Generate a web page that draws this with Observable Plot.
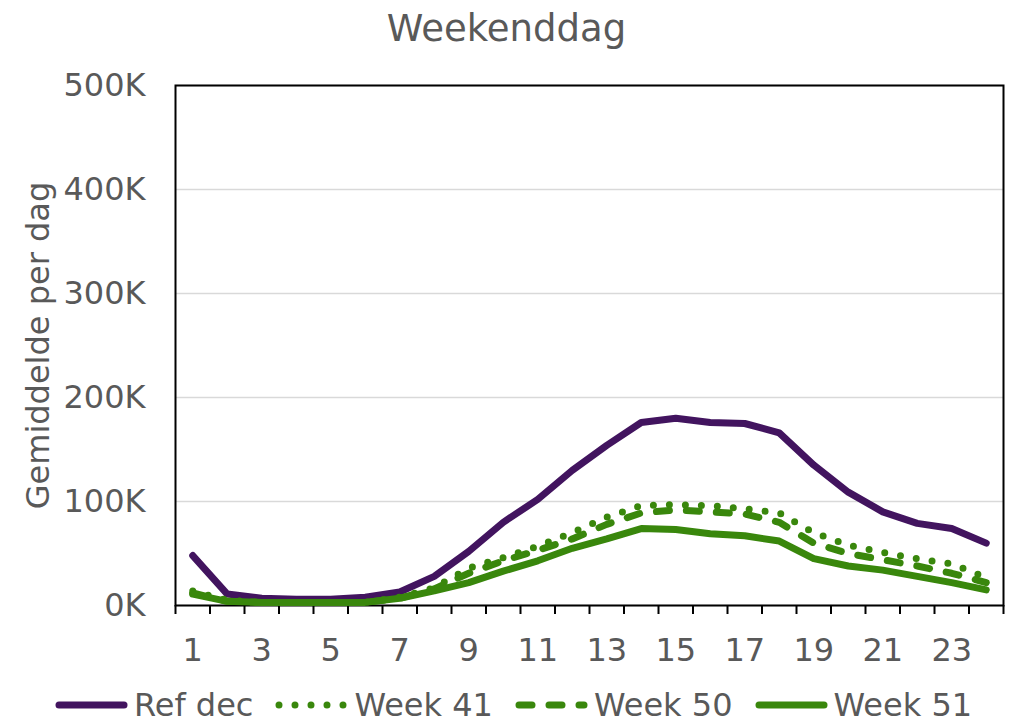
<!DOCTYPE html>
<html>
<head>
<meta charset="utf-8">
<script src="https://cdn.jsdelivr.net/npm/d3@7"></script>
<script src="https://cdn.jsdelivr.net/npm/@observablehq/plot@0.6"></script>
<style>
  html, body { margin: 0; padding: 0; background: #fff; }
  body { width: 1013px; height: 725px; overflow: hidden; font-family: "DejaVu Sans", sans-serif; color: #595959; }
  #title { height: 60px; line-height: 58px; text-align: center; font-size: 37px; }
  #legend { height: 40px; display: flex; justify-content: center; align-items: center; font-size: 32px; padding-left: 14px; }
  .item { display: flex; align-items: center; margin: 0 11px; line-height: 1; }
  .item svg { margin-right: 6px; }
</style>
</head>
<body>
<div id="title">Weekenddag</div>
<div id="chart"></div>
<div id="legend"></div>
<script>
// ---- data (thousands per day) ----
const hours = [1,2,3,4,5,6,7,8,9,10,11,12,13,14,15,16,17,18,19,20,21,22,23,24];
const refDec = [48, 11, 7, 6, 6, 8, 13, 28, 52, 80, 102, 130, 154, 176, 180, 176, 175, 166, 135, 109, 90, 79, 74, 60];
const week41 = [14, 5, 3, 3, 3, 3, 8, 17, 36, 46, 57, 70, 85, 96, 97, 96, 93, 89, 70, 58, 51, 45, 40, 27];
const week50 = [12, 4, 3, 3, 3, 3, 7, 16, 31, 43, 53, 64, 78, 89, 92, 90, 88, 80, 60, 50, 44, 38, 31, 22];
const week51 = [11, 4, 3, 3, 3, 3, 7, 14, 22, 33, 43, 55, 64, 74, 73, 69, 67, 62, 45, 38, 34, 28, 22, 15];
const xTickLabels = [1,3,5,7,9,11,13,15,17,19,21,23];
const yTicks = [0, 100000, 200000, 300000, 400000, 500000];
const seriesNames = ["Ref dec", "Week 41", "Week 50", "Week 51"];

const purple = "#42145f";
const green = "#39870c";
const styles = [
  {stroke: purple, dash: null},
  {stroke: green, dash: "0,16"},
  {stroke: green, dash: "13,17"},
  {stroke: green, dash: null}
];
const allValues = [refDec, week41, week50, week51];
const rows = allValues.map((vals, i) => hours.map((h, j) => ({hour: h, value: vals[j] * 1000, series: seriesNames[i]})));
const boundaries = hours.map(h => h - 0.5).concat([hours[hours.length - 1] + 0.5]);

const chart = Plot.plot({
  width: 1013,
  height: 625,
  marginTop: 25,
  marginBottom: 80,
  marginLeft: 175,
  marginRight: 10,
  style: {fontFamily: "DejaVu Sans, sans-serif", color: "#595959", background: "#fff"},
  x: {domain: [boundaries[0], boundaries[boundaries.length - 1]]},
  y: {domain: [0, 500000]},
  marks: [
    Plot.gridY(yTicks, {stroke: "#d9d9d9", strokeOpacity: 1, strokeWidth: 1.5}),
    Plot.frame({stroke: "black", strokeWidth: 2}),
    Plot.axisY(yTicks, {tickSize: 0, tickPadding: 30, fontSize: 32, tickFormat: d => (d / 1000) + "K", label: null}),
    Plot.axisX(boundaries, {tickSize: 9, stroke: "black", strokeWidth: 2, tickFormat: () => "", label: null}),
    Plot.axisX(xTickLabels, {tickSize: 0, tickPadding: 33, fontSize: 32, label: null}),
    Plot.text(["Gemiddelde per dag"], {frameAnchor: "left", rotate: -90, dx: -137, fontSize: 32, fill: "#595959", textAnchor: "middle", lineAnchor: "middle"}),
    ...rows.map((data, i) => Plot.line(data, {
      x: "hour", y: "value",
      stroke: styles[i].stroke, strokeWidth: 7,
      strokeDasharray: styles[i].dash,
      strokeLinecap: "round", strokeLinejoin: "round"
    }))
  ]
});
document.getElementById("chart").appendChild(chart);

// legend
const legend = d3.select("#legend");
seriesNames.forEach((name, i) => {
  const item = legend.append("div").attr("class", "item");
  const sw = item.append("svg").attr("width", 73).attr("height", 14);
  sw.append("line").attr("x1", 4).attr("x2", 69).attr("y1", 7).attr("y2", 7)
    .attr("stroke", styles[i].stroke).attr("stroke-width", 7)
    .attr("stroke-linecap", "round")
    .attr("stroke-dasharray", styles[i].dash);
  item.append("span").text(name);
});
</script>
</body>
</html>
